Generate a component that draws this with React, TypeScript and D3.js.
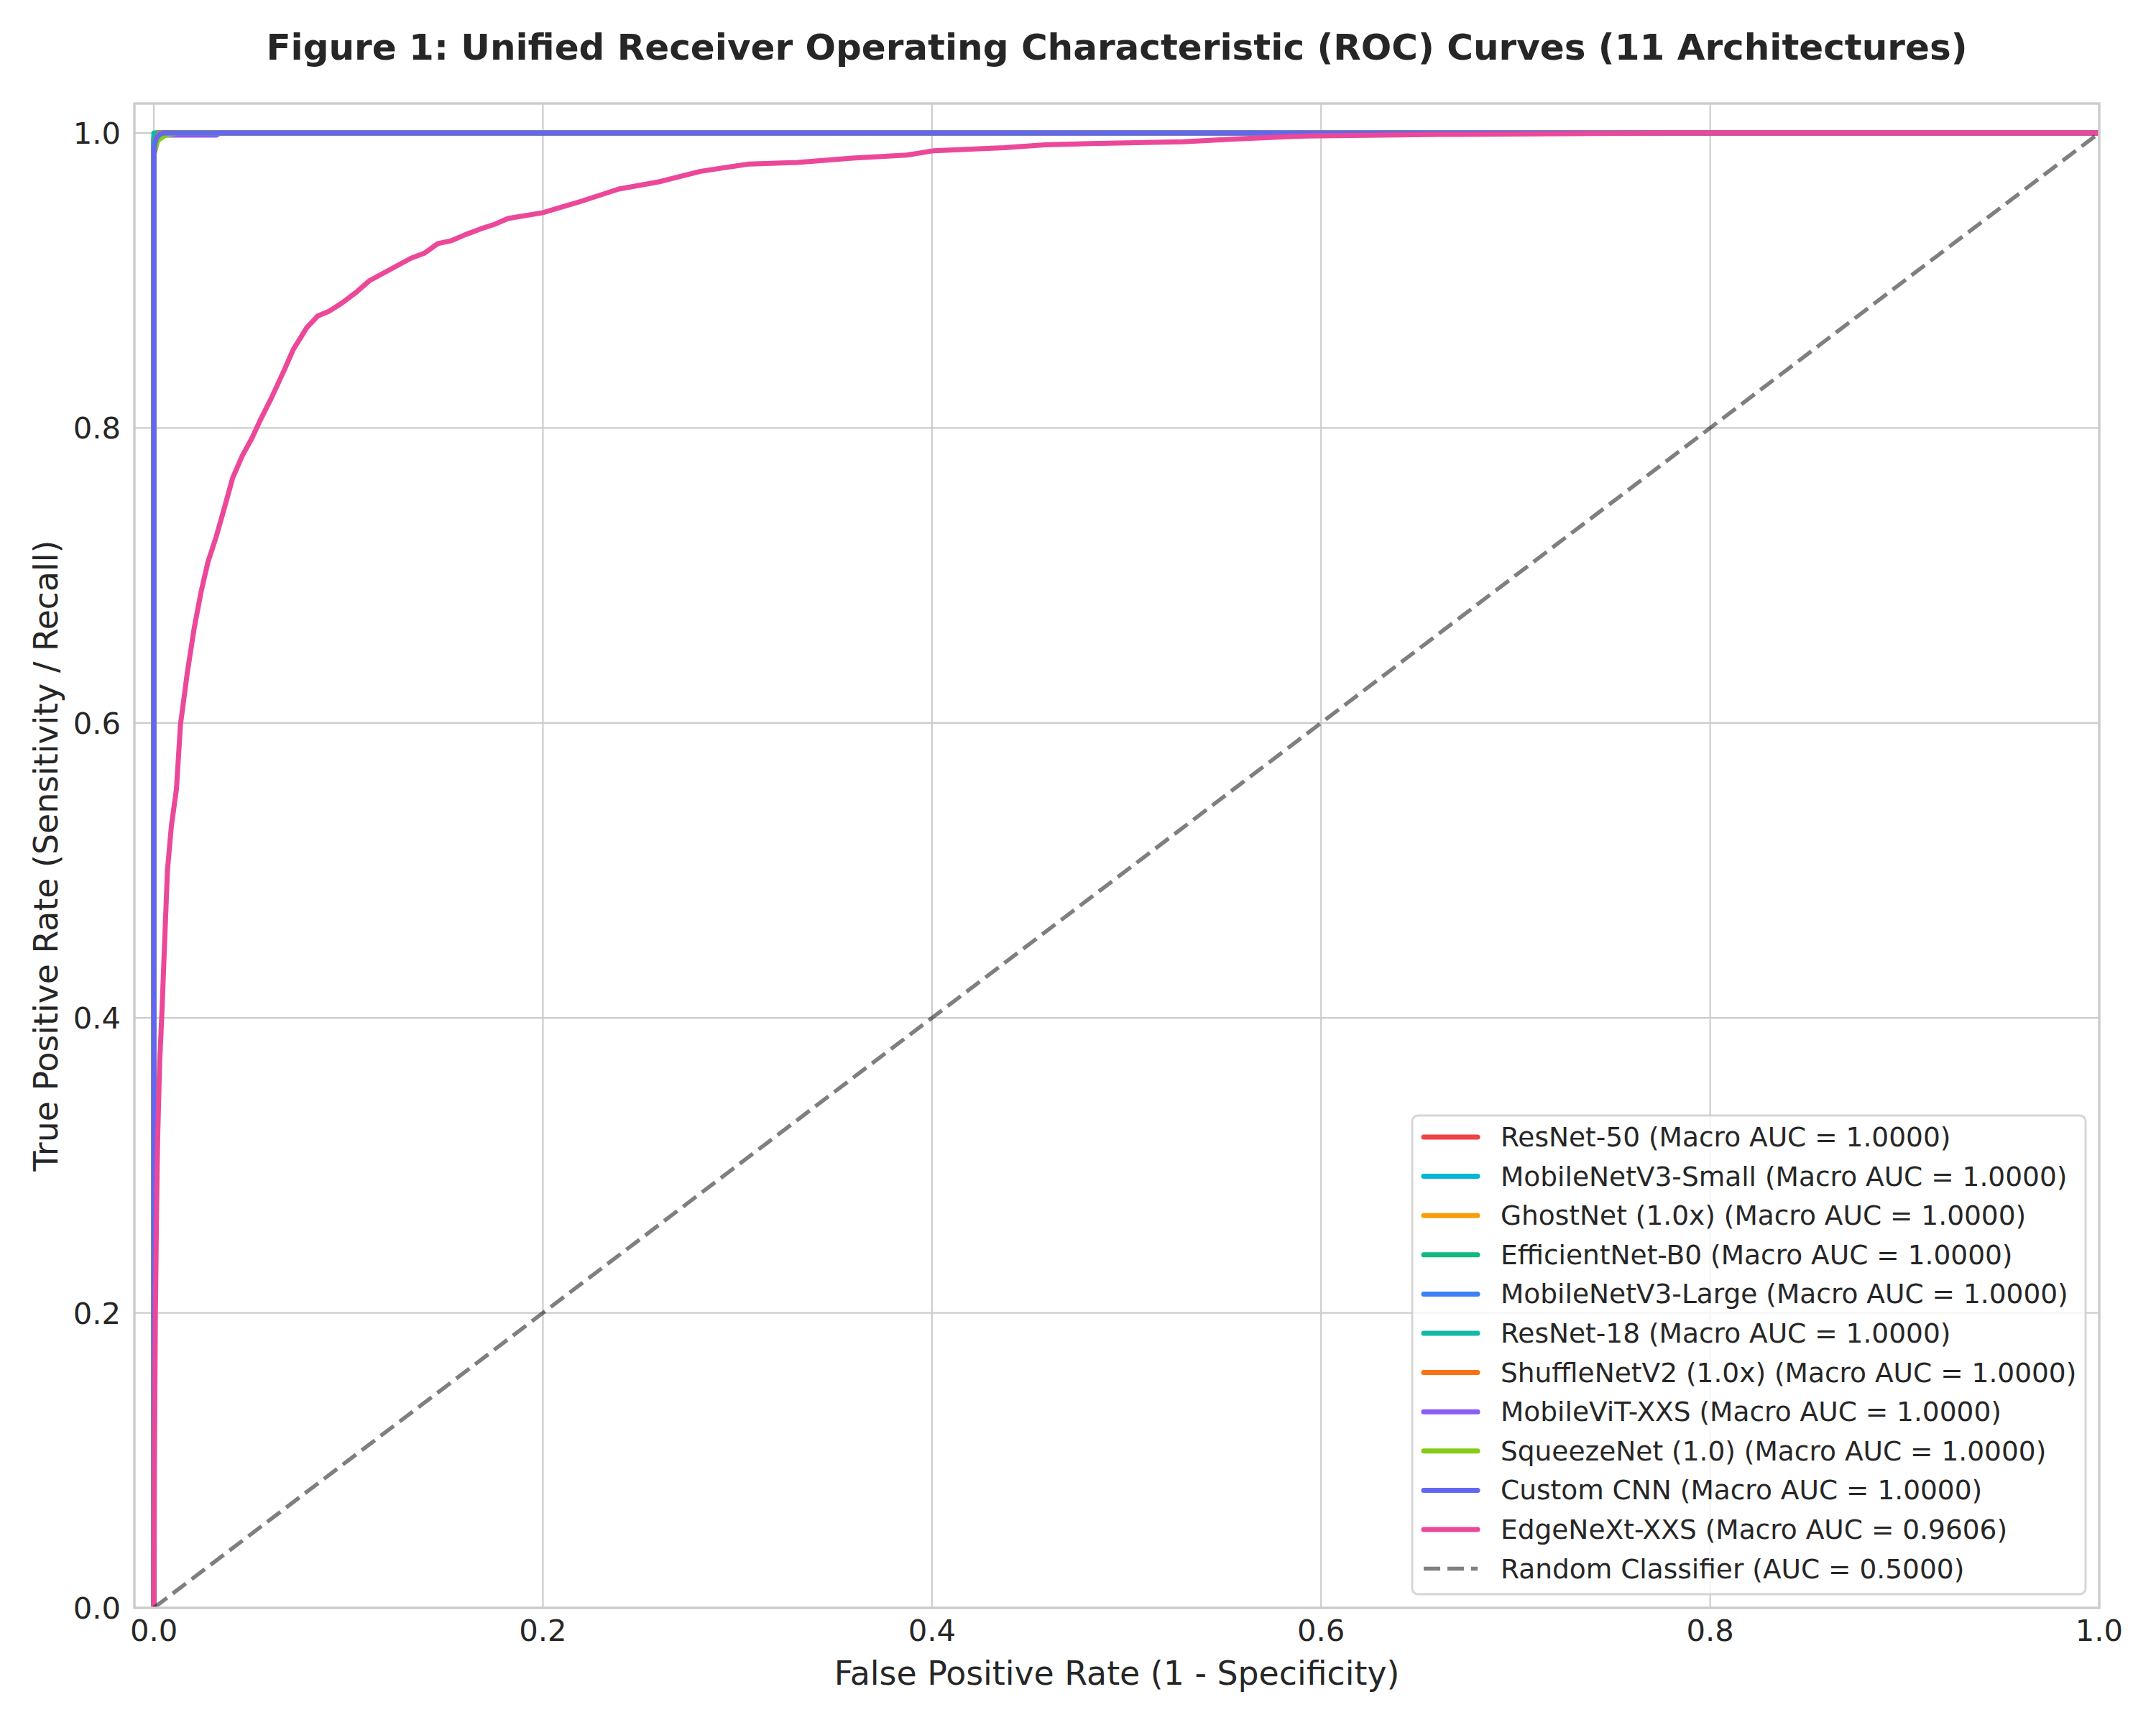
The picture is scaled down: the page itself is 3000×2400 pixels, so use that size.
import React from "react";
import * as d3 from "d3";

// ---- data ----
const modelNames = [
  "ResNet-50",
  "MobileNetV3-Small",
  "GhostNet (1.0x)",
  "EfficientNet-B0",
  "MobileNetV3-Large",
  "ResNet-18",
  "ShuffleNetV2 (1.0x)",
  "MobileViT-XXS",
  "SqueezeNet (1.0)",
  "Custom CNN",
  "EdgeNeXt-XXS",
];
const modelAuc = [1.0, 1.0, 1.0, 1.0, 1.0, 1.0, 1.0, 1.0, 1.0, 1.0, 0.9606];
const modelColors = [
  "#ef4444",
  "#06b6d4",
  "#f59e0b",
  "#10b981",
  "#3b82f6",
  "#14b8a6",
  "#f97316",
  "#8b5cf6",
  "#84cc16",
  "#6366f1",
  "#ec4899",
];

// false positive rates per model
const fprs = [
  [0, 0, 0.002, 1],
  [0, 0, 0.001, 1],
  [0, 0, 0.001, 0.003, 1],
  [0, 0, 0.002, 0.004, 1],
  [0, 0, 0.002, 1],
  [0, 0, 0, 1],
  [0, 0, 0.001, 0.003, 1],
  [0, 0, 0.002, 0.005, 0.032, 0.034, 1],
  [0, 0, 0.002, 0.006, 0.012, 1],
  [0, 0, 0.0005, 0.0015, 0.003, 0.005, 1],
  [
    0, 0.0003, 0.0008, 0.0015, 0.002, 0.003, 0.0042, 0.0055, 0.007, 0.009, 0.0116, 0.0137, 0.0172, 0.0207,
    0.0243, 0.0278, 0.032, 0.0363, 0.0405, 0.0454, 0.0504, 0.0546, 0.0603, 0.0673, 0.0716, 0.0786, 0.0843,
    0.0899, 0.097, 0.104, 0.111, 0.118, 0.125, 0.132, 0.139, 0.146, 0.153, 0.16, 0.168, 0.175, 0.182, 0.2,
    0.218, 0.239, 0.26, 0.281, 0.306, 0.331, 0.359, 0.387, 0.401, 0.437, 0.458, 0.486, 0.529, 0.557, 0.592,
    0.663, 0.776, 1.0,
  ],
];

// true positive rates per model
const tprs = [
  [0, 0.995, 1, 1],
  [0, 0.997, 1, 1],
  [0, 0.99, 0.997, 1, 1],
  [0, 0.992, 0.998, 1, 1],
  [0, 0.996, 1, 1],
  [0, 0.999, 1, 1],
  [0, 0.985, 0.996, 1, 1],
  [0, 0.99, 0.996, 0.9985, 0.9985, 1, 1],
  [0, 0.985, 0.995, 0.9985, 1, 1],
  [0, 0.985, 0.993, 0.997, 0.999, 1, 1],
  [
    0, 0.1, 0.2, 0.28, 0.32, 0.37, 0.405, 0.45, 0.5, 0.53, 0.555, 0.599, 0.634, 0.664, 0.689, 0.709, 0.726,
    0.746, 0.766, 0.781, 0.793, 0.805, 0.82, 0.84, 0.853, 0.868, 0.876, 0.879, 0.885, 0.892, 0.9, 0.905, 0.91,
    0.915, 0.9185, 0.925, 0.927, 0.931, 0.935, 0.938, 0.942, 0.946, 0.953, 0.962, 0.967, 0.974, 0.979, 0.98,
    0.983, 0.985, 0.988, 0.99, 0.992, 0.993, 0.994, 0.996, 0.998, 0.999, 1.0, 1.0,
  ],
];

const randomLine = [0, 1];
const randomAuc = 0.5;
const tickValues = [0, 0.2, 0.4, 0.6, 0.8, 1.0];

const W = 3000;
const H = 2400;
const FONT = "DejaVu Sans, Liberation Sans, sans-serif";
const TEXT = "#262626";
const GRID = "#cccccc";

const App = () => {
  const left = 187;
  const right = 2921;
  const top = 144;
  const bottom = 2237;

  const xScale = d3.scaleLinear().domain([-0.01, 1.0]).range([left, right]);
  const yScale = d3.scaleLinear().domain([0, 1.02]).range([bottom, top]);

  const line = d3
    .line<[number, number]>()
    .x((d) => xScale(d[0]))
    .y((d) => yScale(d[1]));

  const fmt = d3.format(".1f");

  // legend box
  const legW = 937;
  const legH = 666;
  const legX = right - 19 - legW;
  const legY = bottom - 19 - legH;
  const rowH = 54.6;
  const legendItems = [
    ...modelNames.map((n, i) => ({
      label: `${n} (Macro AUC = ${modelAuc[i].toFixed(4)})`,
      color: modelColors[i],
      dashed: false,
    })),
    { label: `Random Classifier (AUC = ${randomAuc.toFixed(4)})`, color: "#808080", dashed: true },
  ];

  return (
    <div style={{ position: "absolute", left: 0, top: 0 }}>
      <svg width={W} height={H} style={{ display: "block", background: "white" }}>
        <defs>
          <clipPath id="plot-clip">
            <rect x={left} y={top} width={right - left} height={bottom - top} />
          </clipPath>
        </defs>

        {/* grid */}
        {tickValues.map((t) => (
          <line key={"gx" + t} x1={xScale(t)} x2={xScale(t)} y1={top} y2={bottom} stroke={GRID} strokeWidth={2.2} />
        ))}
        {tickValues.map((t) => (
          <line key={"gy" + t} x1={left} x2={right} y1={yScale(t)} y2={yScale(t)} stroke={GRID} strokeWidth={2.2} />
        ))}

        {/* curves */}
        <g clipPath="url(#plot-clip)">
          {modelNames.map((n, i) => (
            <path
              key={n}
              d={line(fprs[i].map((f, j) => [f, tprs[i][j]]) as [number, number][]) || ""}
              fill="none"
              stroke={modelColors[i]}
              strokeWidth={7}
              strokeLinejoin="round"
              strokeLinecap="round"
            />
          ))}
          <path
            d={line(randomLine.map((v) => [v, v]) as [number, number][]) || ""}
            fill="none"
            stroke="#000"
            strokeOpacity={0.5}
            strokeWidth={5.5}
            strokeDasharray="23 10"
          />
        </g>

        {/* spines */}
        <rect x={left} y={top} width={right - left} height={bottom - top} fill="none" stroke={GRID} strokeWidth={3.4} />

        {/* tick labels */}
        {tickValues.map((t) => (
          <text
            key={"tx" + t}
            x={xScale(t)}
            y={2283}
            textAnchor="middle"
            fontFamily={FONT}
            fontSize={41.7}
            fill={TEXT}
          >
            {fmt(t)}
          </text>
        ))}
        {tickValues.map((t) => (
          <text
            key={"ty" + t}
            x={168}
            y={yScale(t) + 15}
            textAnchor="end"
            fontFamily={FONT}
            fontSize={41.7}
            fill={TEXT}
          >
            {fmt(t)}
          </text>
        ))}

        {/* axis labels */}
        <text x={(left + right) / 2} y={2344} textAnchor="middle" fontFamily={FONT} fontSize={45.8} fill={TEXT}>
          False Positive Rate (1 - Specificity)
        </text>
        <text
          transform={`translate(80, ${(top + bottom) / 2}) rotate(-90)`}
          textAnchor="middle"
          fontFamily={FONT}
          fontSize={45.8}
          fill={TEXT}
        >
          True Positive Rate (Sensitivity / Recall)
        </text>

        {/* title */}
        <text
          x={(left + right) / 2}
          y={83}
          textAnchor="middle"
          fontFamily={FONT}
          fontSize={50}
          fontWeight="bold"
          fill={TEXT}
        >
          Figure 1: Unified Receiver Operating Characteristic (ROC) Curves (11 Architectures)
        </text>

        {/* legend */}
        <g>
          <rect
            x={legX}
            y={legY}
            width={legW}
            height={legH}
            rx={8}
            fill="white"
            fillOpacity={0.8}
            stroke={GRID}
            strokeOpacity={0.8}
            strokeWidth={3}
          />
          {legendItems.map((it, i) => {
            const cy = legY + 30 + i * rowH;
            return (
              <g key={it.label}>
                <line
                  x1={legX + 16}
                  x2={legX + 91}
                  y1={cy}
                  y2={cy}
                  stroke={it.color}
                  strokeWidth={it.dashed ? 5.5 : 7}
                  strokeDasharray={it.dashed ? "23 10" : undefined}
                  strokeLinecap={it.dashed ? "butt" : "round"}
                />
                <text x={legX + 123} y={cy + 13} fontFamily={FONT} fontSize={37.5} fill={TEXT}>
                  {it.label}
                </text>
              </g>
            );
          })}
        </g>
      </svg>
    </div>
  );
};

export default App;
